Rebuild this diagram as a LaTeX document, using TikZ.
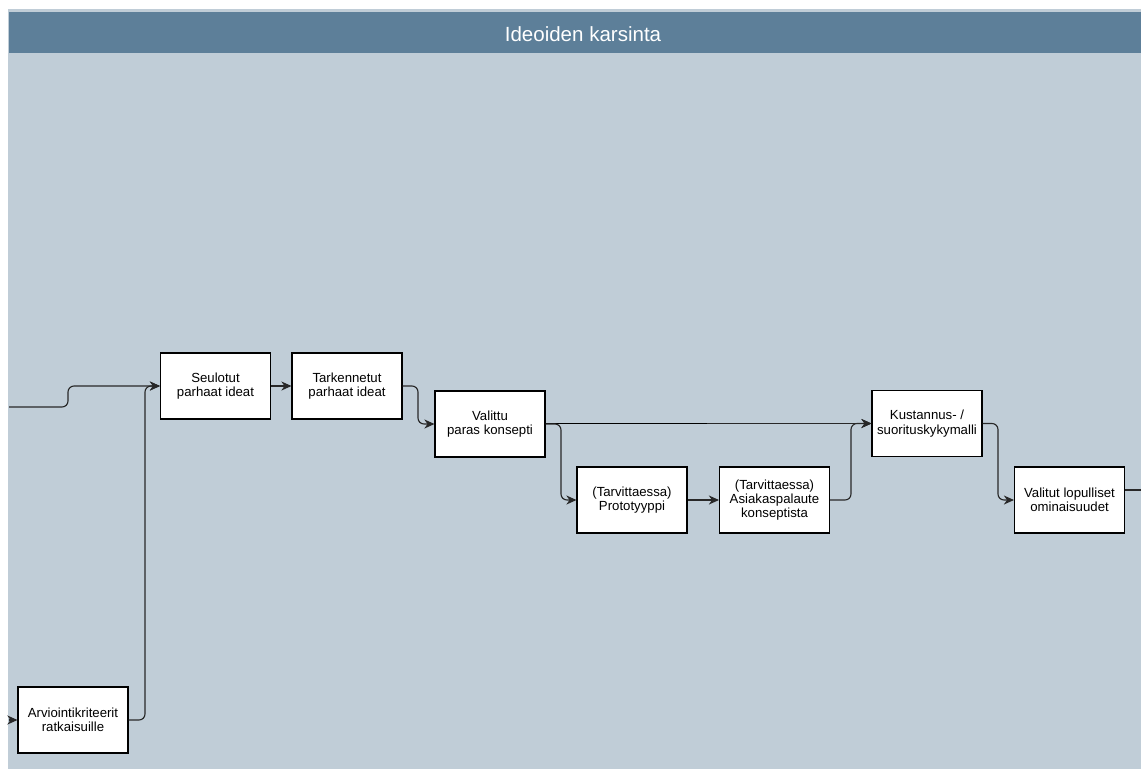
\documentclass[tikz,border=0pt]{standalone}
\usepackage{fontspec}
\setmainfont{Liberation Sans}
\usetikzlibrary{arrows.meta}
\definecolor{lanebody}{RGB}{192,205,215}
\definecolor{lanehead}{RGB}{93,127,153}
\definecolor{wire}{RGB}{40,40,40}
\tikzset{
  stepbox/.style={draw=black, line width=0.8pt, fill=white, inner sep=0pt,
    minimum width=82.5pt, minimum height=49.5pt, align=center,
    font=\fontsize{9.9}{10.8}\selectfont},
  flow/.style={draw=wire, line width=0.85pt, rounded corners=4.5pt,
    -{Stealth[length=7.6pt, width=6.8pt, inset=2.4pt]}},
  plain/.style={draw=wire, line width=0.85pt, rounded corners=4.5pt}
}
\begin{document}
\begin{tikzpicture}[x=0.75pt, y=-0.75pt]
  % canvas and swimlane
  \useasboundingbox (0,0) rectangle (1141,769);
  \fill[white] (0,0) rectangle (1141,769);
  \fill[lanebody] (8,9) rectangle (1141,769);
  \fill[lanehead] (9,12) rectangle (1141,53);
  \node[anchor=base, text=white, font=\fontsize{15.4}{18}\selectfont] (title) at (583,41) {Ideoiden karsinta};

  % process steps
  \node[stepbox] (seul)  at (215.5,386) {Seulotut\\parhaat ideat};
  \node[stepbox] (tark)  at (347,386)   {Tarkennetut\\parhaat ideat};
  \node[stepbox] (val)   at (490,424)   {Valittu\\paras konsepti};
  \node[stepbox] (proto) at (632,500)   {(Tarvittaessa)\\Prototyyppi};
  \node[stepbox] (asiak) at (774.5,500) {(Tarvittaessa)\\Asiakaspalaute\\konseptista};
  \node[stepbox] (kust)  at (927,423.5) {Kustannus- /\\suorituskykymalli};
  \node[stepbox] (valit) at (1069.5,500){Valitut lopulliset\\ominaisuudet};
  \node[stepbox] (arvio) at (73,720)    {Arviointikriteerit\\ratkaisuille};

  % free ends at the lane border
  \coordinate (inA) at (9,407);
  \coordinate (inB) at (9,720);
  \coordinate (outA) at (1141,490);
  \coordinate (midA) at (707,423.5);

  % connectors
  \draw[flow] (inA) -- (68,407) -- (68,386) -- (seul.west);
  \draw[flow] (arvio.east) -- (145,720) -- (145,386) -- (seul.west);
  \draw[flow] (seul.east) -- (tark.east -| tark.west);
  \draw[flow] (tark.east) -- (418,386) -- (418,424) -- (val.west);
  \draw[flow] (val.east |- kust.west) -- (kust.west);
  \draw[plain, draw=black] (val.east |- kust.west) -- (midA);
  \draw[flow] (val.east) -- (561,424) -- (561,500) -- (proto.west);
  \draw[flow] (proto.east) -- (asiak.west);
  \draw[flow] (asiak.east) -- (851,500) -- (851,423.5) -- (kust.west);
  \draw[flow] (kust.east) -- (998,423.5) -- (998,500) -- (valit.west);
  \draw[plain] (valit.east |- outA) -- (outA);
  \draw[flow] (inB) -- (arvio.west);
\end{tikzpicture}
\end{document}
